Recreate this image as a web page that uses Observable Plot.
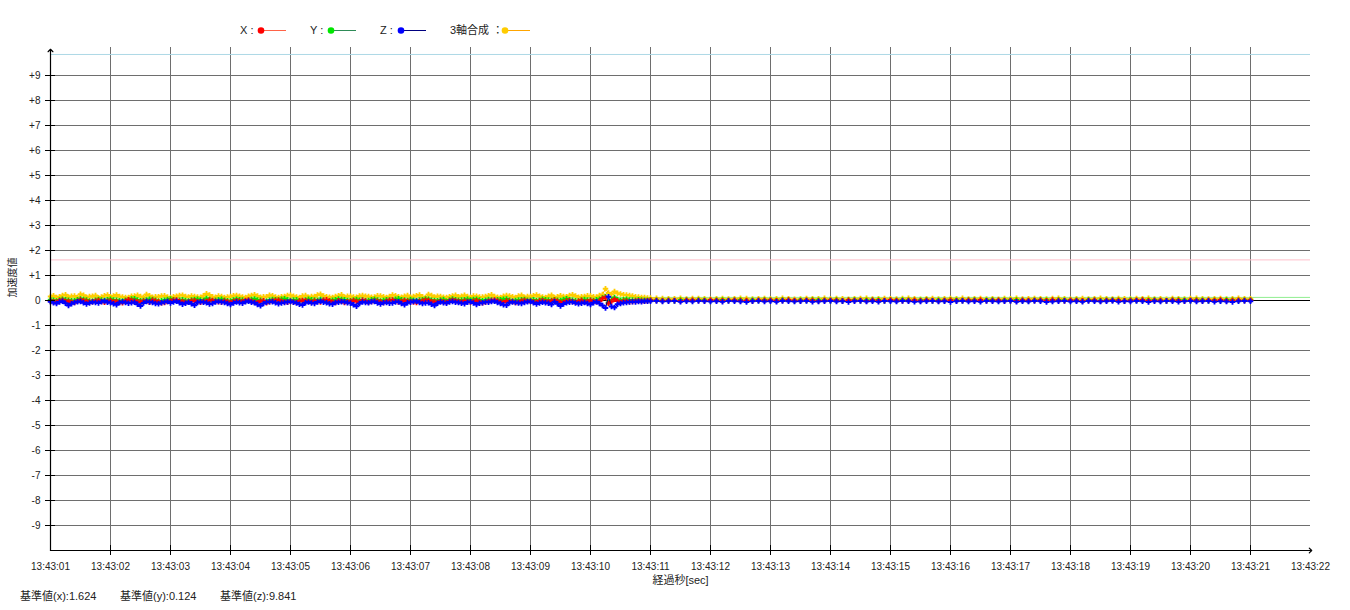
<!DOCTYPE html>
<html><head><meta charset="utf-8">
<script src="https://cdn.jsdelivr.net/npm/d3@7"></script>
<script src="https://cdn.jsdelivr.net/npm/@observablehq/plot@0.6"></script>
<style>
body{margin:0;background:#fff;}
#wrap{position:relative;width:1350px;height:610px;font-family:'Liberation Sans','Noto Sans CJK JP',sans-serif;color:#222;}
#legend{position:absolute;left:0;top:0;}
#caption{position:absolute;left:0;top:589px;font-size:11px;line-height:14px;}
#caption span{position:absolute;white-space:nowrap;top:0;}
</style></head><body>
<div id="wrap"><div id="chart"></div><svg id="legend" width="600" height="45"></svg><div id="caption"></div></div>
<script>
// ---- labels / ticks ----
const xTickLabels = ["13:43:01","13:43:02","13:43:03","13:43:04","13:43:05","13:43:06","13:43:07","13:43:08","13:43:09","13:43:10","13:43:11","13:43:12","13:43:13","13:43:14","13:43:15","13:43:16","13:43:17","13:43:18","13:43:19","13:43:20","13:43:21","13:43:22"];
const yTickValues = [-9,-8,-7,-6,-5,-4,-3,-2,-1,0,1,2,3,4,5,6,7,8,9];
const yTickLabels = ["-9","-8","-7","-6","-5","-4","-3","-2","-1","0","+1","+2","+3","+4","+5","+6","+7","+8","+9"];
const xAxisTitle = "経過秒[sec]";
const yAxisTitle = "加速度値";

// ---- baselines ----
const baselineNames = ["x","y","z"];
const baselineValues = [1.624, 0.124, 9.841];
const baselineColors = ["#ffc0cb","#90ee90","#add8e6"];

// ---- series ----
const seriesNames = ["X","Y","Z","3軸合成"];
const dotColors = ["#ff0000","#00e600","#0000ff","#ffcc00"];
const lineColors = ["#ff6347","#2e8b57","#000080","#ffa500"];

// sampling (seconds from 13:43:01)
const noisyStart = 0, noisyStep = 0.05;
const quietStart = 10, quietStep = 0.1;

const xNoisy = [
-0.02,-0.05,-0.06,-0.01,0.01,-0.03,-0.04,-0.07,-0.08,-0.03,0.02,-0.01,-0.03,-0.06,-0.05,-0.02,0.00,-0.04,-0.07,-0.03,
-0.01,-0.05,-0.04,-0.08,-0.09,-0.02,0.03,0.00,-0.02,-0.05,-0.06,-0.03,-0.03,-0.07,0.01,-0.02,-0.05,-0.09,-0.08,-0.04,
-0.02,0.01,0.02,-0.03,-0.04,-0.07,-0.06,-0.02,-0.01,-0.05,-0.07,-0.04,-0.03,0.01,0.00,-0.03,-0.05,-0.06,-0.02,-0.05,
-0.08,-0.04,-0.01,-0.03,-0.04,0.00,0.02,-0.03,-0.06,-0.08,-0.03,-0.01,-0.09,-0.05,-0.02,0.00,0.01,-0.03,-0.05,-0.07,
-0.03,-0.06,-0.07,-0.02,0.00,-0.01,-0.04,-0.06,-0.02,-0.04,-0.06,0.01,0.03,-0.02,-0.05,-0.08,-0.01,-0.03,-0.08,-0.05,
-0.03,-0.01,-0.04,-0.06,0.01,-0.02,-0.07,-0.04,-0.02,-0.03,-0.05,-0.08,-0.03,0.00,0.02,-0.03,-0.06,-0.04,-0.01,-0.03,
-0.04,-0.06,-0.08,-0.03,-0.02,0.01,0.00,-0.04,-0.05,-0.07,-0.03,-0.05,-0.07,-0.02,0.01,-0.01,-0.04,-0.06,-0.02,-0.04,
-0.06,-0.03,-0.01,-0.05,-0.09,-0.06,-0.03,0.00,0.02,-0.02,-0.05,-0.07,-0.02,-0.03,-0.04,-0.08,-0.07,-0.02,0.00,-0.03,
-0.03,-0.05,-0.06,-0.02,-0.01,-0.04,-0.05,-0.02,0.01,-0.03,-0.08,-0.06,-0.02,-0.01,-0.04,-0.07,-0.03,0.00,-0.06,-0.04,
0.00,-0.03,-0.05,-0.02,0.08,0.12,-0.12,-0.04,0.05,-0.02,-0.07,-0.03,-0.02,-0.05,-0.04,-0.02,-0.01,-0.02,-0.03,-0.01];
const yNoisy = [
0.03,0.01,-0.02,0.02,0.05,0.03,0.01,-0.01,-0.01,0.03,0.06,0.04,0.02,-0.02,-0.03,0.01,0.04,0.02,0.00,0.03,
0.05,0.02,0.01,-0.01,-0.02,0.01,0.03,0.06,0.07,0.02,-0.01,0.00,0.02,0.05,0.04,0.01,-0.03,-0.01,0.01,0.04,
0.06,0.03,0.00,0.01,0.03,0.00,-0.02,0.02,0.04,0.05,0.02,0.00,0.08,0.04,-0.01,0.01,0.03,0.05,0.01,-0.01,
-0.02,0.02,0.05,0.03,0.02,-0.01,0.00,0.04,0.06,0.02,0.01,-0.02,-0.03,0.01,0.04,0.03,0.02,0.05,0.07,0.03,
0.00,0.02,0.03,-0.01,-0.01,0.02,0.05,0.03,0.02,0.00,0.04,0.01,-0.02,-0.01,0.01,0.03,0.06,0.04,0.03,0.00,
-0.01,0.02,0.04,0.01,0.02,-0.01,0.00,0.03,0.05,0.02,-0.02,0.01,0.03,0.02,0.01,0.05,0.07,0.03,0.02,0.00,
0.04,0.01,-0.01,0.02,0.03,0.06,0.05,0.01,0.00,-0.01,0.02,0.04,-0.03,0.02,0.06,0.03,0.01,0.02,0.03,0.05,
0.02,0.04,0.05,0.02,-0.01,0.01,0.04,0.02,0.00,0.03,0.03,0.05,0.06,0.01,-0.02,0.00,0.02,0.03,0.04,0.01,
0.01,0.03,-0.01,0.01,0.05,0.03,0.02,0.00,0.03,0.01,0.00,0.04,0.07,0.03,0.01,-0.01,-0.02,0.02,0.04,0.02,
0.02,0.00,0.03,0.05,0.10,0.15,-0.08,0.02,0.12,0.04,0.00,0.03,0.05,0.02,0.02,0.01,0.03,0.02,0.01,0.01];
const zNoisy = [
-0.05,-0.09,-0.12,-0.06,-0.03,-0.11,-0.20,-0.13,-0.08,-0.05,-0.04,-0.09,-0.14,-0.10,-0.06,-0.08,-0.10,-0.05,-0.02,-0.07,
-0.09,-0.13,-0.17,-0.08,-0.05,-0.08,-0.11,-0.09,-0.07,-0.15,-0.22,-0.10,-0.04,-0.06,-0.08,-0.12,-0.13,-0.09,-0.06,-0.04,
-0.10,-0.06,-0.03,-0.09,-0.15,-0.11,-0.07,-0.13,-0.19,-0.08,-0.05,-0.07,-0.09,-0.14,-0.12,-0.06,-0.04,-0.06,-0.08,-0.12,
-0.16,-0.10,-0.06,-0.09,-0.11,-0.05,-0.03,-0.07,-0.09,-0.16,-0.21,-0.12,-0.07,-0.05,-0.05,-0.09,-0.13,-0.10,-0.08,-0.06,
-0.04,-0.07,-0.10,-0.15,-0.18,-0.09,-0.06,-0.10,-0.12,-0.06,-0.03,-0.07,-0.09,-0.13,-0.15,-0.08,-0.07,-0.05,-0.05,-0.09,
-0.11,-0.17,-0.23,-0.12,-0.06,-0.08,-0.09,-0.05,-0.04,-0.10,-0.14,-0.09,-0.08,-0.11,-0.10,-0.06,-0.05,-0.12,-0.17,-0.09,
-0.07,-0.04,-0.03,-0.08,-0.12,-0.10,-0.09,-0.15,-0.20,-0.11,-0.06,-0.09,-0.11,-0.06,-0.04,-0.07,-0.08,-0.11,-0.13,-0.07,
-0.05,-0.10,-0.16,-0.11,-0.09,-0.06,-0.07,-0.04,-0.03,-0.08,-0.12,-0.17,-0.19,-0.09,-0.06,-0.08,-0.10,-0.12,-0.08,-0.05,
-0.04,-0.09,-0.14,-0.10,-0.07,-0.09,-0.11,-0.16,-0.05,-0.13,-0.22,-0.14,-0.09,-0.07,-0.06,-0.10,-0.13,-0.11,-0.08,-0.12,
-0.16,-0.09,-0.05,-0.12,-0.20,-0.30,0.15,-0.24,-0.28,-0.15,-0.12,-0.09,-0.08,-0.06,-0.05,-0.06,-0.04,-0.05,-0.03,-0.03];
const sNoisy = [
0.16,0.19,0.12,0.15,0.20,0.23,0.14,0.17,0.18,0.13,0.25,0.21,0.13,0.16,0.17,0.20,0.11,0.14,0.19,0.22,
0.15,0.18,0.22,0.16,0.14,0.12,0.12,0.17,0.18,0.21,0.16,0.13,0.24,0.19,0.13,0.15,0.15,0.18,0.19,0.14,
0.12,0.15,0.17,0.20,0.21,0.16,0.14,0.18,0.16,0.14,0.13,0.19,0.27,0.22,0.15,0.13,0.18,0.16,0.12,0.14,
0.16,0.19,0.20,0.17,0.14,0.12,0.17,0.20,0.23,0.18,0.13,0.15,0.15,0.21,0.19,0.14,0.12,0.15,0.16,0.20,
0.21,0.17,0.14,0.12,0.18,0.20,0.13,0.16,0.16,0.22,0.25,0.18,0.15,0.13,0.12,0.16,0.19,0.23,0.14,0.17,
0.17,0.14,0.13,0.18,0.20,0.17,0.16,0.13,0.14,0.19,0.18,0.15,0.12,0.16,0.22,0.19,0.15,0.13,0.17,0.20,
0.13,0.16,0.19,0.22,0.15,0.12,0.24,0.20,0.14,0.17,0.16,0.13,0.12,0.15,0.18,0.21,0.15,0.17,0.21,0.16,
0.13,0.18,0.17,0.14,0.14,0.16,0.19,0.23,0.16,0.13,0.12,0.17,0.20,0.18,0.15,0.12,0.18,0.21,0.13,0.16,
0.16,0.19,0.22,0.17,0.14,0.12,0.17,0.21,0.12,0.15,0.19,0.16,0.15,0.20,0.23,0.18,0.13,0.15,0.16,0.19,
0.18,0.15,0.14,0.20,0.24,0.47,0.30,0.25,0.36,0.29,0.26,0.23,0.22,0.20,0.18,0.15,0.14,0.12,0.12,0.10];

const xQuiet = [
0.01,0.00,-0.01,0.00,0.00,-0.02,0.01,0.01,0.00,-0.01,0.02,0.00,-0.01,0.00,0.01,-0.01,0.00,-0.02,0.01,0.00,
0.01,-0.01,0.00,0.02,0.00,-0.01,0.01,0.00,-0.02,0.00,0.01,0.00,-0.01,0.01,0.00,0.00,-0.02,0.01,-0.01,0.00,
0.02,0.00,-0.01,0.00,0.01,-0.01,0.01,0.00,-0.02,0.00,0.01,-0.01,0.00,0.01,0.00,0.02,-0.01,0.00,0.01,-0.01,
0.00,-0.02,0.01,0.00,0.00,0.01,-0.01,0.02,0.00,-0.01,0.01,0.00,-0.01,0.00,0.01,-0.02,0.00,0.01,0.00,-0.01,
0.00,0.01,0.02,-0.01,0.00,0.00,-0.01,0.01,0.00,-0.02,0.01,0.00,-0.01,0.01,0.00,0.02,-0.01,0.00,0.01,0.00,0.01];
const yQuiet = [
0.02,0.01,0.00,0.01,-0.01,0.02,0.01,0.00,0.02,0.01,-0.01,0.01,0.02,0.00,0.01,0.02,-0.01,0.01,0.00,0.02,
0.01,0.00,0.02,0.01,-0.01,0.01,0.00,0.02,0.01,0.01,0.00,0.02,-0.01,0.01,0.02,0.00,0.01,0.01,0.02,-0.01,
0.01,0.00,0.02,0.01,0.00,0.01,0.02,-0.01,0.01,0.00,0.02,0.01,0.00,0.01,0.02,-0.01,0.01,0.02,0.00,0.01,
0.01,0.02,0.00,-0.01,0.01,0.02,0.01,0.00,0.02,0.01,0.00,0.01,-0.01,0.02,0.01,0.00,0.01,0.02,0.01,-0.01,
0.02,0.00,0.01,0.01,0.02,0.00,-0.01,0.01,0.02,0.01,0.00,0.02,0.01,-0.01,0.01,0.00,0.02,0.01,0.00,0.01,0.01];
const zQuiet = [
-0.03,-0.02,-0.04,-0.03,-0.02,-0.05,-0.03,-0.04,-0.02,-0.03,-0.04,-0.03,-0.05,-0.02,-0.03,-0.04,-0.06,-0.03,-0.02,-0.04,
-0.03,-0.05,-0.02,-0.03,-0.04,-0.03,-0.02,-0.05,-0.04,-0.03,-0.02,-0.04,-0.03,-0.06,-0.03,-0.02,-0.04,-0.03,-0.05,-0.02,
-0.03,-0.04,-0.02,-0.03,-0.05,-0.04,-0.03,-0.02,-0.04,-0.03,-0.06,-0.03,-0.02,-0.04,-0.03,-0.05,-0.02,-0.03,-0.04,-0.03,
-0.02,-0.05,-0.03,-0.04,-0.02,-0.03,-0.06,-0.04,-0.03,-0.02,-0.04,-0.03,-0.05,-0.02,-0.03,-0.04,-0.03,-0.02,-0.05,-0.03,
-0.04,-0.02,-0.03,-0.06,-0.03,-0.04,-0.02,-0.03,-0.05,-0.03,-0.02,-0.04,-0.03,-0.02,-0.05,-0.03,-0.04,-0.06,-0.03,-0.02,-0.03];
const sQuiet = [
0.10,0.09,0.08,0.07,0.07,0.09,0.06,0.08,0.08,0.07,0.05,0.07,0.08,0.06,0.07,0.09,0.08,0.06,0.07,0.08,
0.06,0.07,0.09,0.07,0.05,0.06,0.08,0.07,0.07,0.09,0.06,0.08,0.07,0.05,0.07,0.08,0.09,0.06,0.07,0.08,
0.07,0.06,0.08,0.09,0.07,0.05,0.07,0.08,0.06,0.07,0.08,0.07,0.09,0.06,0.07,0.08,0.06,0.07,0.05,0.08,
0.07,0.09,0.06,0.07,0.08,0.07,0.06,0.08,0.09,0.07,0.05,0.07,0.08,0.06,0.07,0.09,0.07,0.06,0.08,0.07,
0.06,0.08,0.07,0.09,0.06,0.07,0.05,0.08,0.07,0.06,0.08,0.09,0.07,0.06,0.07,0.08,0.06,0.07,0.09,0.07,0.07];

// ---- build rows ----
const noisyBySeries = [xNoisy, yNoisy, zNoisy, sNoisy];
const quietBySeries = [xQuiet, yQuiet, zQuiet, sQuiet];
const rows = [];
seriesNames.forEach((name, k) => {
  noisyBySeries[k].forEach((v, i) => rows.push({t: +(noisyStart + i * noisyStep).toFixed(3), v, s: name}));
  quietBySeries[k].forEach((v, i) => rows.push({t: +(quietStart + i * quietStep).toFixed(3), v, s: name}));
});

const xDomain = [0, xTickLabels.length - 1];
const yDomain = [-10, 10];
const xTickValues = d3.range(xTickLabels.length);
const xGrid = xTickValues.filter(d => d > xDomain[0] && d < xDomain[1]);
const yGrid = yTickValues.filter(d => d !== 0);

const drawOrder = [3, 1, 0, 2];
const seriesMarks = drawOrder.flatMap(k => {
  const name = seriesNames[k];
  const d = rows.filter(r => r.s === name);
  return [
    Plot.line(d, {x: "t", y: "v", stroke: lineColors[k], strokeWidth: 1}),
    Plot.dot(d, {x: "t", y: "v", symbol: "cross", r: 2.3, fill: dotColors[k], stroke: "none"})
  ];
});

const chart = Plot.plot({
  width: 1350, height: 610,
  marginLeft: 50, marginRight: 40, marginTop: 50, marginBottom: 60,
  style: {fontFamily: "'Liberation Sans','Noto Sans CJK JP',sans-serif", fontSize: "10px", color: "#222", background: "#fff"},
  x: {type: "linear", domain: xDomain},
  y: {type: "linear", domain: yDomain},
  marks: [
    Plot.ruleY(yGrid, {stroke: "#6e6e6e", strokeWidth: 1}),
    Plot.ruleX(xGrid, {stroke: "#6e6e6e", strokeWidth: 1, insetTop: -3}),
    Plot.ruleY(baselineValues, {stroke: (d, i) => baselineColors[i], strokeWidth: 1}),
    Plot.ruleY([0], {stroke: "#000", strokeWidth: 1}),
    ...seriesMarks,
    // axis lines with arrow heads
    Plot.line([[xDomain[0], yDomain[0]], [xDomain[0], yDomain[1]]], {stroke: "#000", strokeWidth: 1.2, markerEnd: "arrow"}),
    Plot.line([[xDomain[0], yDomain[0]], [xDomain[1], yDomain[0]]], {stroke: "#000", strokeWidth: 1.2, markerEnd: "arrow"}),
    // tick crossings
    Plot.ruleY(yTickValues, {x1: xDomain[0], x2: xDomain[0], insetLeft: -5, insetRight: -5, stroke: "#000"}),
    Plot.ruleX(xGrid, {y1: yDomain[0], y2: yDomain[0], insetTop: -5, insetBottom: -5, stroke: "#000"}),
    // tick labels
    Plot.axisY({ticks: yTickValues, tickSize: 0, tickPadding: 10, tickFormat: d => yTickLabels[yTickValues.indexOf(d)], label: null, fill: "#222"}),
    Plot.axisX({ticks: xTickValues, tickSize: 0, tickPadding: 12, tickFormat: d => xTickLabels[d], label: null, fill: "#222"}),
    // axis titles
    Plot.text([xAxisTitle], {frameAnchor: "bottom", dy: 33, fontSize: 11, fill: "#222"}),
    Plot.text([yAxisTitle], {frameAnchor: "left", dx: -38, dy: -3, rotate: -90, fontSize: 10, fill: "#222"})
  ]
});
document.getElementById("chart").appendChild(chart);

// ---- legend ----
const legendPos = [{tx: 240, dx: 261}, {tx: 310, dx: 331}, {tx: 380, dx: 401}, {tx: 450, dx: 505}];
const lg = d3.select("#legend");
seriesNames.forEach((name, k) => {
  const p = legendPos[k];
  lg.append("text").attr("x", p.tx).attr("y", 34).attr("font-size", 11).attr("fill", "#222")
    .attr("font-family", "'Liberation Sans','Noto Sans CJK JP',sans-serif")
    .text(name + (k === 3 ? " ：" : " :"));
  lg.append("line").attr("x1", p.dx).attr("x2", p.dx + 25).attr("y1", 30.5).attr("y2", 30.5)
    .attr("stroke", lineColors[k]).attr("stroke-width", 1);
  lg.append("circle").attr("cx", p.dx).attr("cy", 30.5).attr("r", 3.3).attr("fill", dotColors[k]);
});

// ---- caption ----
const cap = d3.select("#caption");
baselineNames.forEach((n, i) => {
  cap.append("span").style("left", (20 + i * 100) + "px").text(`基準値(${n}):${baselineValues[i].toFixed(3)}`);
});
</script>
</body></html>
